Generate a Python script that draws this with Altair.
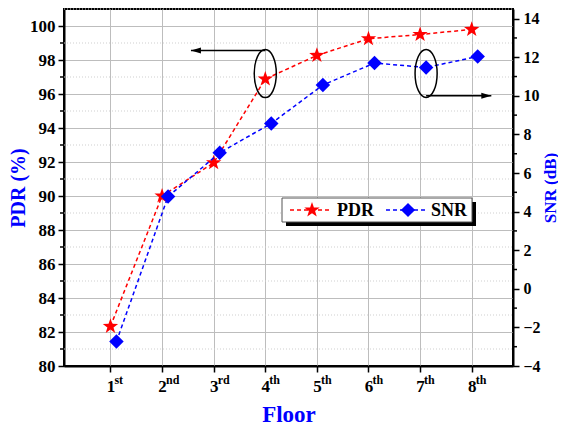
import altair as alt
import pandas as pd

# ---- data ----
floors = [1, 2, 3, 4, 5, 6, 7, 8]
floor_sup = ["st", "nd", "rd", "th", "th", "th", "th", "th"]
pdr = [82.33, 90.0, 91.95, 96.88, 98.27, 99.25, 99.5, 99.8]
snr = [-2.73, 4.78, 7.05, 8.57, 10.56, 11.7, 11.47, 12.04]

pdr_ticks = [80, 82, 84, 86, 88, 90, 92, 94, 96, 98, 100]
pdr_minor = [81, 83, 85, 87, 89, 91, 93, 95, 97, 99, 101]
snr_ticks = [-4, -2, 0, 2, 4, 6, 8, 10, 12, 14]
snr_minor = [-3, -1, 1, 3, 5, 7, 9, 11, 13]

ann_pdr = {"x": 4, "y": 97.2, "ay": 98.56, "ax2": 2.56}
ann_snr = {"x": 7, "y": 11.16, "ay": 10.0, "ax2": 8.38}

W, H = 449, 357
FONT = "Liberation Serif"
BLUE = "#0000FF"
RED = "#FF0000"

STAR = ("M0,-1 L0.235,-0.324 L0.951,-0.309 L0.38,0.124 L0.588,0.809 L0,0.4 "
        "L-0.588,0.809 L-0.38,0.124 L-0.951,-0.309 L-0.235,-0.324 L0,-1")
ELLIPSE = ("M0,-1 C0.254,-1 0.46,-0.552 0.46,0 C0.46,0.552 0.254,1 0,1 "
           "C-0.254,1 -0.46,0.552 -0.46,0 C-0.46,-0.552 -0.254,-1 0,-1")
HEAD_L = "M0,0 L1,-0.3 L1,0.3 L0,0"
HEAD_R = "M0,0 L-1,-0.3 L-1,0.3 L0,0"

xscale = alt.Scale(domain=[0.1, 8.8], nice=False, zero=False)
yl = alt.Scale(domain=[80, 101], nice=False, zero=False)
yr = alt.Scale(domain=[-4, 14.5], nice=False, zero=False)

df = pd.DataFrame({"floor": floors, "pdr": pdr, "snr": snr, "sup": floor_sup})
one = pd.DataFrame({"a": [0]})

AX_X = alt.Axis(values=floors, labelExpr="datum.value", title="Floor",
                grid=True, gridColor="#bdbdbd", gridWidth=1,
                labelFont=FONT, labelFontSize=17, labelFontWeight="bold",
                labelColor="black", labelPadding=6, tickSize=6, tickWidth=1.5,
                tickColor="black", domainColor="black", domainWidth=2,
                titleFont=FONT, titleFontSize=23, titleFontWeight="bold",
                titleColor=BLUE, titlePadding=9)
AX_L = alt.Axis(values=pdr_ticks, title="PDR (%)", grid=True,
                gridColor="#bdbdbd", gridWidth=1,
                labelFont=FONT, labelFontSize=17, labelFontWeight="bold",
                labelColor="black", labelPadding=3, tickSize=6, tickWidth=1.5,
                tickColor="black", domainColor="black", domainWidth=2,
                titleFont=FONT, titleFontSize=20, titleFontWeight="bold",
                titleColor=BLUE, titlePadding=1)
AX_R = alt.Axis(orient="right", values=snr_ticks, title="SNR (dB)", grid=False,
                labelFont=FONT, labelFontSize=16, labelFontWeight="bold",
                labelColor="black", labelPadding=4, tickSize=6, tickWidth=1.5,
                tickColor="black", domainColor="black", domainWidth=2,
                titleFont=FONT, titleFontSize=17, titleFontWeight="bold",
                titleColor=BLUE, titlePadding=2, titleAngle=270, titleBaseline="top")


def XQ(f):
    return alt.X(f, scale=xscale, axis=AX_X)


def YL(f):
    return alt.Y(f, scale=yl, axis=AX_L)


def YR(f):
    return alt.Y(f, scale=yr, axis=AX_R)


minor_grid = alt.Chart(pd.DataFrame({"v": pdr_minor})).mark_rule(
    color="#cfcfcf", strokeDash=[1, 2], strokeWidth=1
).encode(y=YL("v:Q"), x=alt.value(0), x2=alt.value(W))

minor_ticks_l = alt.Chart(pd.DataFrame({"v": pdr_minor[:-1]})).mark_rule(
    color="black", strokeWidth=1.5
).encode(y=YL("v:Q"), x=alt.value(-4), x2=alt.value(0))

pdr_line = alt.Chart(df).mark_line(color=RED, strokeDash=[4, 3], strokeWidth=1.5).encode(
    x=XQ("floor:Q"), y=YL("pdr:Q"))
pdr_pts = alt.Chart(df).mark_point(shape=STAR, filled=True, color=RED, size=260, opacity=1).encode(
    x=XQ("floor:Q"), y=YL("pdr:Q"))

ap = pd.DataFrame([ann_pdr])
ell1 = alt.Chart(ap).mark_point(shape=ELLIPSE, size=48 * 48, filled=False,
                                stroke="black", strokeWidth=1.5, opacity=1).encode(
    x=XQ("x:Q"), y=YL("y:Q"))
arr1 = alt.Chart(ap).mark_rule(color="black", strokeWidth=1.5).encode(
    x=XQ("x:Q"), x2="ax2:Q", y=YL("ay:Q"))
head1 = alt.Chart(ap).mark_point(shape=HEAD_L, size=400, filled=True,
                                 color="black", opacity=1).encode(
    x=XQ("ax2:Q"), y=YL("ay:Q"))

sups = alt.Chart(df).mark_text(font=FONT, fontSize=12, fontWeight="bold", align="left",
                               baseline="top", dx=4, color="black").encode(
    x=XQ("floor:Q"), y=alt.value(H + 9), text="sup:N")

lx0, lx1, ly0, ly1 = 218, 408, 189, 213
lmid = (ly0 + ly1) / 2
shadow = alt.Chart(one).mark_rect(color="black").encode(
    x=alt.value(lx0 + 4), x2=alt.value(lx1 + 4), y=alt.value(ly0 + 4), y2=alt.value(ly1 + 4))
box = alt.Chart(one).mark_rect(fill="white", stroke="#555555", strokeWidth=1).encode(
    x=alt.value(lx0), x2=alt.value(lx1), y=alt.value(ly0), y2=alt.value(ly1))
leg_l1 = alt.Chart(one).mark_rule(color=RED, strokeDash=[4, 3], strokeWidth=1.5).encode(
    x=alt.value(226), x2=alt.value(267), y=alt.value(lmid))
leg_p1 = alt.Chart(one).mark_point(shape=STAR, filled=True, color=RED, size=260, opacity=1).encode(
    x=alt.value(248), y=alt.value(lmid))
leg_t1 = alt.Chart(pd.DataFrame({"t": ["PDR"]})).mark_text(
    font=FONT, fontSize=18, fontWeight="bold", align="left", baseline="middle", color="black").encode(
    x=alt.value(273), y=alt.value(lmid + 1), text="t:N")
leg_l2 = alt.Chart(one).mark_rule(color=BLUE, strokeDash=[4, 3], strokeWidth=1.5).encode(
    x=alt.value(322), x2=alt.value(361), y=alt.value(lmid))
leg_p2 = alt.Chart(one).mark_point(shape="diamond", filled=True, color=BLUE, size=200, opacity=1).encode(
    x=alt.value(344), y=alt.value(lmid))
leg_t2 = alt.Chart(pd.DataFrame({"t": ["SNR"]})).mark_text(
    font=FONT, fontSize=18, fontWeight="bold", align="left", baseline="middle", color="black").encode(
    x=alt.value(367), y=alt.value(lmid + 1), text="t:N")

left = alt.layer(minor_grid, pdr_line, minor_ticks_l, pdr_pts, ell1, arr1, head1, sups,
                 shadow, box, leg_l1, leg_p1, leg_t1, leg_l2, leg_p2, leg_t2)

snr_line = alt.Chart(df).mark_line(color=BLUE, strokeDash=[4, 3], strokeWidth=1.5, xOffset=6).encode(
    x=XQ("floor:Q"), y=YR("snr:Q"))
snr_pts = alt.Chart(df).mark_point(shape="diamond", filled=True, color=BLUE, size=210,
                                   opacity=1, xOffset=6).encode(
    x=XQ("floor:Q"), y=YR("snr:Q"))
minor_ticks_r = alt.Chart(pd.DataFrame({"v": snr_minor})).mark_rule(
    color="black", strokeWidth=1.5
).encode(y=YR("v:Q"), x=alt.value(W), x2=alt.value(W + 4))

asn = pd.DataFrame([ann_snr])
ell2 = alt.Chart(asn).mark_point(shape=ELLIPSE, size=48 * 48, filled=False, xOffset=6,
                                 stroke="black", strokeWidth=1.5, opacity=1).encode(
    x=XQ("x:Q"), y=YR("y:Q"))
arr2 = alt.Chart(asn).mark_rule(color="black", strokeWidth=1.5, xOffset=6).encode(
    x=XQ("x:Q"), x2="ax2:Q", y=YR("ay:Q"))
head2 = alt.Chart(asn).mark_point(shape=HEAD_R, size=400, filled=True,
                                  color="black", opacity=1).encode(
    x=XQ("ax2:Q"), y=YR("ay:Q"))

right = alt.layer(snr_line, minor_ticks_r, snr_pts, ell2, arr2, head2)

chart = alt.layer(left, right).resolve_scale(y="independent").properties(
    width=W, height=H,
    padding={"left": 56, "top": 1, "right": 45, "bottom": 62},
    autosize="none",
).configure_view(stroke="black", strokeWidth=2)

chart.save("out.html", embed_options={"renderer": "svg", "actions": False})
